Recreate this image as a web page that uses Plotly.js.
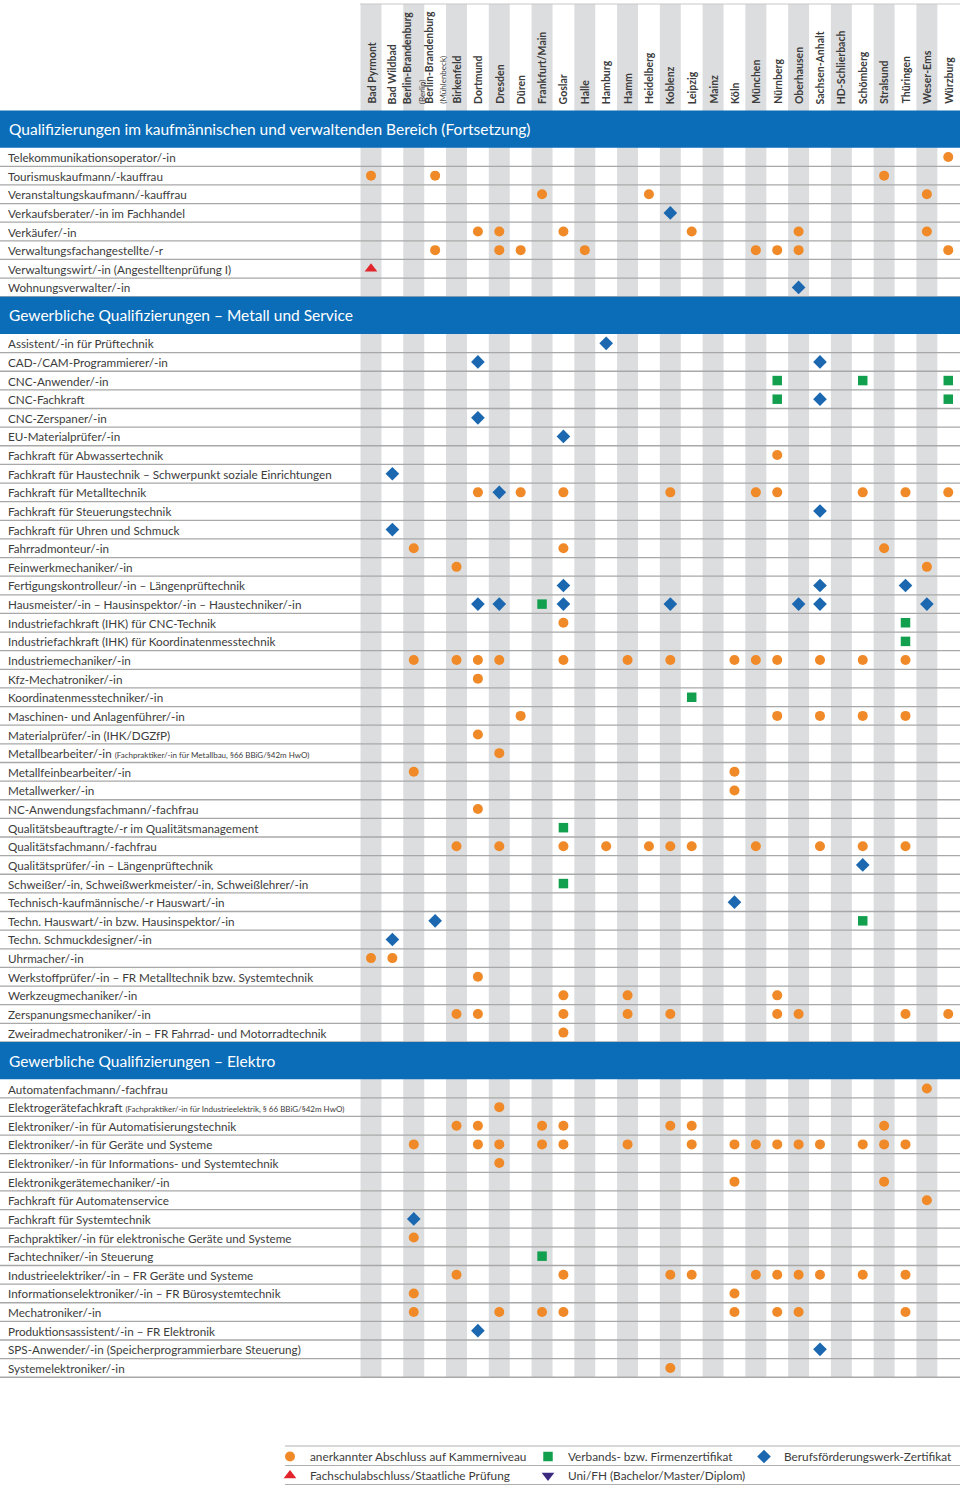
<!DOCTYPE html>
<html><head><meta charset="utf-8">
<script src="https://cdn.plot.ly/plotly-3.0.1.min.js"></script>
<style>html,body{margin:0;padding:0;background:#fff}#chart{width:960px;height:1486px}</style>
</head><body><div id="chart"></div>
<script>
// ---------- DATA ----------
const locations = ["Bad Pyrmont","Bad Wildbad","Berlin-Brandenburg (Berlin)","Berlin-Brandenburg (Mühlenbeck)","Birkenfeld","Dortmund","Dresden","Düren","Frankfurt/Main","Goslar","Halle","Hamburg","Hamm","Heidelberg","Koblenz","Leipzig","Mainz","Köln","München","Nürnberg","Oberhausen","Sachsen-Anhalt","HD-Schlierbach","Schömberg","Stralsund","Thüringen","Weser-Ems","Würzburg"];

const sectionTitles = ["Qualifizierungen im kaufmännischen und verwaltenden Bereich (Fortsetzung)","Gewerbliche Qualifizierungen – Metall und Service","Gewerbliche Qualifizierungen – Elektro"];

// mark codes per location (groups of 7 locations): o = Kammer, v = Verband/Firma, b = BFW, f = Fachschule, u = Uni/FH
const kaufmRows = ["Telekommunikationsoperator/-in","Tourismuskaufmann/-kauffrau","Veranstaltungskaufmann/-kauffrau","Verkaufsberater/-in im Fachhandel","Verkäufer/-in","Verwaltungsfachangestellte/-r","Verwaltungswirt/-in (Angestelltenprüfung I)","Wohnungsverwalter/-in"];
const kaufmMarks = [
"....... ....... ....... ......o",
"o..o... ....... ....... ...o...",
"....... .o....o ....... .....o.",
"....... ....... b...... .......",
".....oo ..o.... .o....o .....o.",
"...o..o o..o... ....ooo ......o",
"f...... ....... ....... .......",
"....... ....... ......b ......."];

const metallRows = ["Assistent/-in für Prüftechnik","CAD-/CAM-Programmierer/-in","CNC-Anwender/-in","CNC-Fachkraft","CNC-Zerspaner/-in","EU-Materialprüfer/-in","Fachkraft für Abwassertechnik","Fachkraft für Haustechnik – Schwerpunkt soziale Einrichtungen","Fachkraft für Metalltechnik","Fachkraft für Steuerungstechnik","Fachkraft für Uhren und Schmuck","Fahrradmonteur/-in","Feinwerkmechaniker/-in","Fertigungskontrolleur/-in – Längenprüftechnik","Hausmeister/-in – Hausinspektor/-in – Haustechniker/-in","Industriefachkraft (IHK) für CNC-Technik","Industriefachkraft (IHK) für Koordinatenmesstechnik","Industriemechaniker/-in","Kfz-Mechatroniker/-in","Koordinatenmesstechniker/-in","Maschinen- und Anlagenführer/-in","Materialprüfer/-in (IHK/DGZfP)","Metallbearbeiter/-in (Fachpraktiker/-in für Metallbau, §66 BBiG/§42m HwO)","Metallfeinbearbeiter/-in","Metallwerker/-in","NC-Anwendungsfachmann/-fachfrau","Qualitätsbeauftragte/-r im Qualitätsmanagement","Qualitätsfachmann/-fachfrau","Qualitätsprüfer/-in – Längenprüftechnik","Schweißer/-in, Schweißwerkmeister/-in, Schweißlehrer/-in","Technisch-kaufmännische/-r Hauswart/-in","Techn. Hauswart/-in bzw. Hausinspektor/-in","Techn. Schmuckdesigner/-in","Uhrmacher/-in","Werkstoffprüfer/-in – FR Metalltechnik bzw. Systemtechnik","Werkzeugmechaniker/-in","Zerspanungsmechaniker/-in","Zweiradmechatroniker/-in – FR Fahrrad- und Motorradtechnik"];
const metallMarks = [
"....... ....b.. ....... .......",
".....b. ....... ....... b......",
"....... ....... .....v. ..v...v",
"....... ....... .....v. b.....v",
".....b. ....... ....... .......",
"....... ..b.... ....... .......",
"....... ....... .....o. .......",
".b..... ....... ....... .......",
".....ob o.o.... o...oo. ..o.o.o",
"....... ....... ....... b......",
".b..... ....... ....... .......",
"..o.... ..o.... ....... ...o...",
"....o.. ....... ....... .....o.",
"....... ..b.... ....... b...b..",
".....bb .vb.... b.....b b....b.",
"....... ..o.... ....... ....v..",
"....... ....... ....... ....v..",
"..o.ooo ..o..o. o..ooo. o.o.o..",
".....o. ....... ....... .......",
"....... ....... .v..... .......",
"....... o...... .....o. o.o.o..",
".....o. ....... ....... .......",
"......o ....... ....... .......",
"..o.... ....... ...o... .......",
"....... ....... ...o... .......",
".....o. ....... ....... .......",
"....... ..v.... ....... .......",
"....o.o ..o.o.o oo..o.. o.o.o..",
"....... ....... ....... ..b....",
"....... ..v.... ....... .......",
"....... ....... ...b... .......",
"...b... ....... ....... ..v....",
".b..... ....... ....... .......",
"oo..... ....... ....... .......",
".....o. ....... ....... .......",
"....... ..o..o. .....o. .......",
"....oo. ..o..o. o....oo ....o.o",
"....... ..o.... ....... ......."];

const elektroRows = ["Automatenfachmann/-fachfrau","Elektrogerätefachkraft (Fachpraktiker/-in für Industrieelektrik, § 66 BBiG/§42m HwO)","Elektroniker/-in für Automatisierungstechnik","Elektroniker/-in für Geräte und Systeme","Elektroniker/-in für Informations- und Systemtechnik","Elektronikgerätemechaniker/-in","Fachkraft für Automatenservice","Fachkraft für Systemtechnik","Fachpraktiker/-in für elektronische Geräte und Systeme","Fachtechniker/-in Steuerung","Industrieelektriker/-in – FR Geräte und Systeme","Informationselektroniker/-in – FR Bürosystemtechnik","Mechatroniker/-in","Produktionsassistent/-in – FR Elektronik","SPS-Anwender/-in (Speicherprogrammierbare Steuerung)","Systemelektroniker/-in"];
const elektroMarks = [
"....... ....... ....... .....o.",
"......o ....... ....... .......",
"....oo. .oo.... oo..... ...o...",
"..o..oo .oo..o. .o.oooo o.ooo..",
"......o ....... ....... .......",
"....... ....... ...o... ...o...",
"....... ....... ....... .....o.",
"..b.... ....... ....... .......",
"..o.... ....... ....... .......",
"....... .v..... ....... .......",
"....o.. ..o.... oo..ooo o.o.o..",
"..o.... ....... ...o... .......",
"..o...o .oo.... ...o.oo ....o..",
".....b. ....... ....... .......",
"....... ....... ....... b......",
"....... ....... o...... ......."];

const markTypes = ["o","v","b","f","u"];
const markNames = ["anerkannter Abschluss auf Kammerniveau","Verbands- bzw. Firmenzertifikat","Berufsförderungswerk-Zertifikat","Fachschulabschluss/Staatliche Prüfung","Uni/FH (Bachelor/Master/Diplom)"];

// ---------- STYLE ----------
const markSymbols = {o:"circle", v:"square", b:"diamond", f:"triangle-up", u:"triangle-down"};
const markColors = {o:"#F08A28", v:"#13A04E", b:"#1B68B0", f:"#E2242C", u:"#3B2A80"};
const markSizes = {o:10, v:9.5, b:10.5, f:11, u:11};
const markLegend = {o:"legend", v:"legend2", b:"legend3", f:"legend", u:"legend2"};

const W = 960, H = 1486, U = 18.63, CW = 21.38, X0 = 371;
const yTop = 2 - 157 / U;
const yBot = yTop + H / U;
const py = px => yTop + px / U;
const xL = -X0 / CW, xR = (W - X0) / CW;
const px2x = px => (px - X0) / CW;
const FONT = "Lato, 'Open Sans', sans-serif";
const BLUE = "#0B6DB8";

const sections = [
  {title: sectionTitles[0], rows: kaufmRows, marks: kaufmMarks},
  {title: sectionTitles[1], rows: metallRows, marks: metallMarks},
  {title: sectionTitles[2], rows: elektroRows, marks: elektroMarks}
];

const pts = {}; markTypes.forEach(t => pts[t] = {x: [], y: []});
const shapes = [], annotations = [];
let k = 0;
const headerInfo = [], rowInfo = [];
sections.forEach(sec => {
  headerInfo.push({k: k, title: sec.title});
  k += 2;
  sec.rows.forEach((label, r) => {
    const code = sec.marks[r].replace(/ /g, "");
    for (let i = 0; i < code.length; i++) {
      const c = code[i];
      if (pts[c]) { pts[c].x.push(locations[i]); pts[c].y.push(k); }
    }
    rowInfo.push({k: k, label: label});
    k++;
  });
});
const lastK = k - 1;

// column stripes
locations.forEach((loc, i) => {
  if (i % 2 === 0) shapes.push({type:"rect", layer:"below", xref:"x", yref:"y", x0:i-0.49, x1:i+0.49, y0:py(4), y1:lastK+0.5, fillcolor:"#DCDDDF", line:{width:0}});
});
// top thin line
shapes.push({type:"line", layer:"below", xref:"x", yref:"y", x0:px2x(360), x1:xR, y0:py(4), y1:py(4), line:{color:"#C8C8C8", width:1}});
// row lines
rowInfo.forEach(r => shapes.push({type:"line", layer:"below", xref:"x", yref:"y", x0:xL, x1:xR, y0:r.k+0.5, y1:r.k+0.5, line:{color:"#A8A8A8", width:1.3}}));
// section bars
headerInfo.forEach(h => {
  shapes.push({type:"rect", layer:"below", xref:"x", yref:"y", x0:xL, x1:xR, y0:h.k-0.5, y1:h.k+1.5, fillcolor:BLUE, line:{width:0}});
  annotations.push({xref:"paper", yref:"y", x:7/W, y:h.k+0.5, xanchor:"left", yanchor:"middle", showarrow:false, text:h.title, font:{family:FONT, size:15.5, color:"#FFFFFF"}});
});
// row labels
rowInfo.forEach(r => {
  const m = r.label.match(/^(.*?) (\(Fachpraktiker.*\))$/);
  const txt = m ? m[1] + " <span style='font-size:8px'>" + m[2] + "</span>" : r.label;
  annotations.push({xref:"paper", yref:"y", x:6/W, y:r.k, xanchor:"left", yanchor:"middle", showarrow:false, text:txt, font:{family:FONT, size:11.7, color:"#3C3C3C"}});
});
// column labels
locations.forEach(loc => {
  const m = loc.match(/^(.*?) (\(.*\))$/);
  const txt = m ? "<b>" + m[1] + "</b><br><span style='font-size:8px'>" + m[2] + "</span>" : "<b>" + loc + "</b>";
  annotations.push({xref:"x", yref:"y", x:loc, y:py(106), xanchor:"center", yanchor:"bottom", textangle:-90, align:"left", showarrow:false, text:txt, font:{family:FONT, size:10.5, color:"#3C3C3C"}});
});
// legend lines
[1446, 1465.5, 1484.5].forEach(px => shapes.push({type:"line", xref:"paper", yref:"paper", x0:285/W, x1:1, y0:1-px/H, y1:1-px/H, line:{color:"#B0B0B0", width:1}}));

const traces = markTypes.map((t, j) => ({
  type:"scatter", mode:"markers", name:markNames[j],
  x: pts[t].x.length ? pts[t].x : [null], y: pts[t].y.length ? pts[t].y : [null],
  legend:markLegend[t], legendrank:j+1, showlegend:true,
  marker:{symbol:markSymbols[t], color:markColors[t], size:markSizes[t], line:{width:0}},
  hoverinfo:"skip"
}));

const legBase = {orientation:"v", xanchor:"left", yanchor:"top", y:1-1442/H, bgcolor:"rgba(0,0,0,0)", borderwidth:0, font:{family:FONT, size:11.8, color:"#3C3C3C"}, tracegroupgap:0, itemclick:false, itemdoubleclick:false};

const layout = {
  width:W, height:H, margin:{l:0, r:0, t:0, b:0, autoexpand:false},
  paper_bgcolor:"#FFFFFF", plot_bgcolor:"#FFFFFF",
  showlegend:true,
  legend: Object.assign({}, legBase, {x:270/W}),
  legend2: Object.assign({}, legBase, {x:528/W}),
  legend3: Object.assign({}, legBase, {x:744/W}),
  xaxis:{type:"category", categoryorder:"array", categoryarray:locations, range:[xL, xR], showgrid:false, zeroline:false, showticklabels:false, ticks:"", fixedrange:true},
  yaxis:{range:[yBot, yTop], showgrid:false, zeroline:false, showticklabels:false, ticks:"", fixedrange:true},
  shapes:shapes, annotations:annotations, hovermode:false,
  font:{family:FONT}
};

Plotly.newPlot("chart", traces, layout, {staticPlot:true, displayModeBar:false});
</script>
</body></html>
